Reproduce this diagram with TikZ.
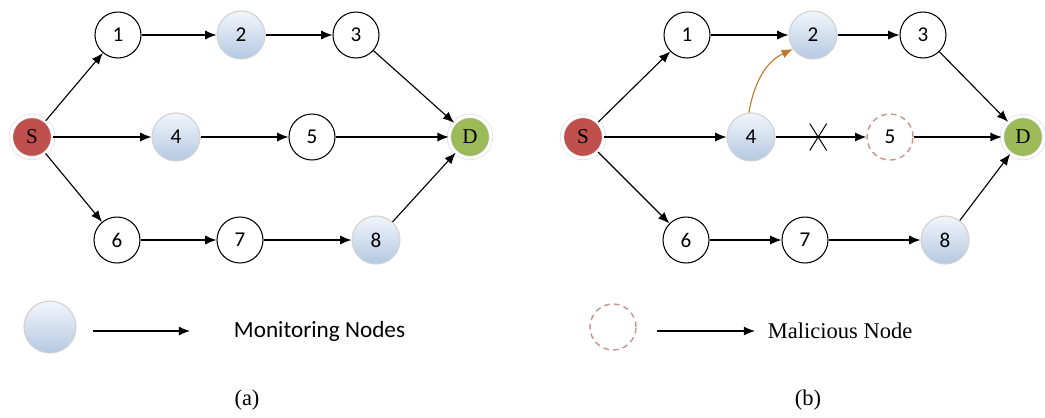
\documentclass[tikz,border=0pt]{standalone}
\usepackage{fontspec}
\setmainfont{Liberation Serif}
\newfontfamily\calfont{Carlito}
\usepackage{xcolor}
\usepackage{tikz}
\usetikzlibrary{arrows.meta, positioning, shapes.misc}

\definecolor{srcred}{HTML}{C0504D}
\definecolor{dstgreen}{HTML}{9BBB59}
\definecolor{montop}{HTML}{F2F6FB}
\definecolor{monbot}{HTML}{B4C8E2}
\definecolor{malred}{HTML}{C9928E}
\definecolor{wormhole}{HTML}{C0782C}

\tikzset{
  %% Plain relay node
  relay/.style={
    circle, draw=black, fill=white, line width=0.75pt,
    minimum size=46*0.025cm, inner sep=0pt,
    font=\calfont\fontsize{15}{17}\selectfont
  },
  %% Monitoring node (blue)
  monnode/.style={
    circle, draw=gray!35, line width=0.8pt,
    top color=montop, bottom color=monbot,
    minimum size=48*0.025cm, inner sep=0pt,
    font=\calfont\fontsize{15}{17}\selectfont
  },
  %% Malicious node (dashed)
  malnode/.style={
    circle, draw=malred, dash pattern=on 4pt off 3pt,
    line width=1pt, fill=white,
    minimum size=46*0.025cm, inner sep=0pt,
    font=\calfont\fontsize{15}{17}\selectfont
  },
  %% Source / destination
  endnode/.style={
    circle, draw=gray!30, double=white, double distance=2.2pt,
    fill=#1, minimum size=42*0.025cm, inner sep=0pt,
    font=\fontsize{15}{17}\selectfont
  },
  %% Arrow
  arr/.style={-{Latex[length=8pt,width=6.5pt]}, draw=black, line width=0.8pt},
  %% Broken link mark
  cutmark/.style={cross out, draw=black, line width=0.7pt,
    minimum width=16*0.025cm, minimum height=26*0.025cm, inner sep=0pt},
}

\begin{document}
\begin{tikzpicture}[x=0.025cm, y=-0.025cm,
                    legend/.style={font=\fontsize{16}{18}\selectfont, anchor=west},
                    caption/.style={font=\fontsize{16}{18}\selectfont}]
  \useasboundingbox (0,0) rectangle (1045,417);

  %% ---------------- (a) ----------------
  \node[endnode=srcred]   (aS) at (32,137)  {S};
  \node[relay]            (a1) at (118,35)  {1};
  \node[monnode]          (a2) at (241,35)  {2};
  \node[relay]            (a3) at (356,35)  {3};
  \node[monnode]          (a4) at (176,137) {4};
  \node[relay]            (a5) at (312,137) {5};
  \node[endnode=dstgreen] (aD) at (470,137) {D};
  \node[relay]            (a6) at (117,240) {6};
  \node[relay]            (a7) at (240,240) {7};
  \node[monnode]          (a8) at (376,240) {8};

  \draw[arr] (aS) -- (a1);
  \draw[arr] (a1) -- (a2);
  \draw[arr] (a2) -- (a3);
  \draw[arr] (a3) -- (aD);
  \draw[arr] (aS) -- (a4);
  \draw[arr] (a4) -- (a5);
  \draw[arr] (a5) -- (aD);
  \draw[arr] (aS) -- (a6);
  \draw[arr] (a6) -- (a7);
  \draw[arr] (a7) -- (a8);
  \draw[arr] (a8) -- (aD);

  %% Legend (a)
  \node[monnode, minimum size=52*0.025cm] (amon) at (50,327) {};
  \coordinate (aarr) at (190,331);
  \draw[arr] (93,331) -- (aarr);
  \node[legend, font=\calfont\fontsize{16.5}{18}\selectfont] (amontxt) at (229,331) {Monitoring Nodes};
  \node[caption] (acap) at (247,400) {(a)};

  %% ---------------- (b) ----------------
  \node[endnode=srcred]   (bS) at (583,137)  {S};
  \node[relay]            (b1) at (687,35)   {1};
  \node[monnode]          (b2) at (813,35)   {2};
  \node[relay]            (b3) at (923,35)   {3};
  \node[monnode]          (b4) at (751,137)  {4};
  \node[malnode]          (b5) at (890,137)  {5};
  \node[endnode=dstgreen] (bD) at (1023,137) {D};
  \node[relay]            (b6) at (686,240)  {6};
  \node[relay]            (b7) at (805,240)  {7};
  \node[monnode]          (b8) at (945,240)  {8};

  \draw[arr] (bS) -- (b1);
  \draw[arr] (b1) -- (b2);
  \draw[arr] (b2) -- (b3);
  \draw[arr] (b3) -- (bD);
  \draw[arr] (bS) -- (b4);
  \draw[arr] (b4) -- node[cutmark, pos=0.47] (bcut) {} (b5);
  \draw[arr] (b5) -- (bD);
  \draw[arr] (bS) -- (b6);
  \draw[arr] (b6) -- (b7);
  \draw[arr] (b7) -- (b8);
  \draw[arr] (b8) -- (bD);

  %% Forwarded packet to node 2
  \draw[-{Latex[length=8pt,width=6.5pt]}, draw=wormhole, line width=0.8pt]
       (b4.95) to[out=80, in=205] (b2.215);

  %% Legend (b)
  \node[malnode, minimum size=46*0.025cm] (bmal) at (613,327) {};
  \coordinate (barr) at (755,331);
  \draw[arr] (657,331) -- (barr);
  \node[legend] (bmaltxt) at (763,331) {Malicious Node};
  \node[caption] (bcap) at (808,400) {(b)};

\end{tikzpicture}
\end{document}
